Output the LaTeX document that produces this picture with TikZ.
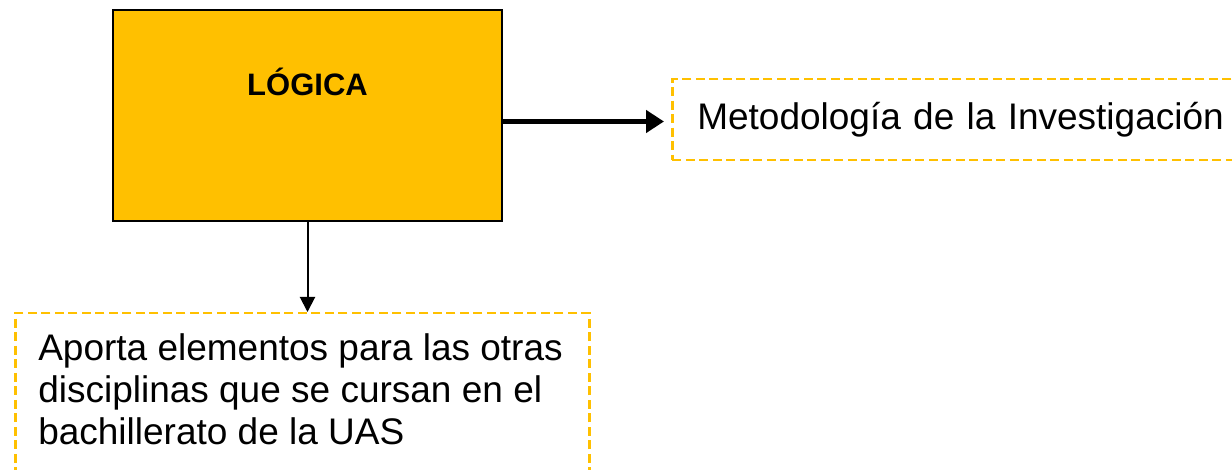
\documentclass[tikz,border=0pt]{standalone}
\usepackage{fontspec}
\setmainfont{Liberation Sans}
\usetikzlibrary{arrows.meta}
\definecolor{gold}{HTML}{FFC000}
\begin{document}
\begin{tikzpicture}[x=1pt,y=-1pt,
  mainbox/.style={draw=black, line width=2pt, fill=gold, inner sep=0pt,
    minimum width=389pt, text height=86pt, text depth=125pt,
    font=\fontsize{31}{36}\selectfont\bfseries},
  dashbox/.style={draw=gold, line width=2.5pt, dash pattern=on 9pt off 4.5pt,
    font=\fontsize{37}{42}\selectfont},
  conn/.style={draw=black}
]
\path[use as bounding box] (0,0) rectangle (1232,470);
\clip (0,0) rectangle (1232,470);
\fill[white] (0,0) rectangle (1232,470);
\node[mainbox, anchor=north west] (logica) at (112,9) {LÓGICA};
\node[dashbox, anchor=north west, minimum width=590pt, minimum height=81pt,
  inner xsep=24pt, text width=540pt, align=left] (meto) at (671,78)
  {Metodología de la Investigación};
\node[dashbox, anchor=north west, inner xsep=23pt, inner ysep=20pt] (aporta) at (14,312)
  {\parbox[t][170pt][t]{528pt}{\raggedright Aporta elementos para las otras disciplinas que se cursan en el bachillerato de la UAS}};
\coordinate (aw) at (0,121.5);
\draw[conn, line width=5pt, -{Triangle[length=18pt,width=22pt]}, shorten >=7pt]
  (logica.east |- aw) -- (meto.west |- aw);
\draw[conn, line width=2pt, -{Triangle[length=15pt,width=15pt]}]
  (logica.south) -- (logica.south |- aporta.north);
\end{tikzpicture}
\end{document}
